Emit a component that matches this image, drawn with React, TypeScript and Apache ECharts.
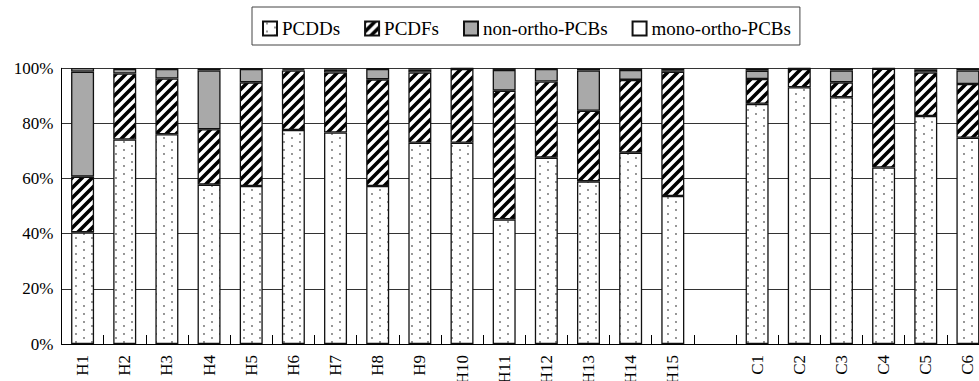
import React, { useEffect, useRef } from "react";
import * as echarts from "echarts";

const categories = ["H1","H2","H3","H4","H5","H6","H7","H8","H9","H10","H11","H12","H13","H14","H15","","C1","C2","C3","C4","C5","C6"];
const pcdds = [40.5,74.2,76.1,57.8,57.3,77.6,76.7,57.3,73.0,73.0,45.2,67.6,59.0,69.4,53.7,null,87.1,93.1,89.5,64.0,82.7,74.8];
const pcdfs = [20.2,23.9,20.2,20.1,37.6,21.6,21.8,38.7,25.5,26.8,46.7,27.6,25.6,26.4,45.1,null,9.0,6.7,5.4,35.9,15.8,19.5];
const nonOrtho = [38.1,1.7,3.5,21.3,4.9,0.4,1.0,3.8,1.0,0.1,7.5,4.6,14.6,3.6,0.5,null,3.0,0.1,4.3,0.0,1.0,4.9];
const monoOrtho = [1.2,0.2,0.2,0.8,0.2,0.4,0.5,0.2,0.5,0.1,0.6,0.2,0.8,0.6,0.7,null,0.9,0.1,0.8,0.1,0.5,0.8];
const yTicks = [0, 20, 40, 60, 80, 100];

const FONT = "Liberation Serif";

const dotsSvg =
  "<svg xmlns='http://www.w3.org/2000/svg' width='16' height='8'>" +
  "<rect width='16' height='8' fill='white'/>" +
  "<circle cx='4' cy='2' r='0.9' fill='#666'/>" +
  "<circle cx='12' cy='6' r='0.9' fill='#666'/></svg>";
const hatchSvg =
  "<svg xmlns='http://www.w3.org/2000/svg' width='10' height='10'>" +
  "<rect width='10' height='10' fill='white'/>" +
  "<path d='M-2,2 L2,-2 M0,10 L10,0 M8,12 L12,8' stroke='black' stroke-width='3.6'/></svg>";

const toUrl = (s: string) => "data:image/svg+xml;charset=utf-8," + encodeURIComponent(s);

export default function App() {
  const ref = useRef<HTMLDivElement>(null);
  useEffect(() => {
    document.body.style.margin = "0";
    const chart = echarts.init(ref.current!, null, { renderer: "svg" });
    const dotPattern: any = { image: toUrl(dotsSvg), repeat: "repeat", imageWidth: 16, imageHeight: 8 };
    const hatchPattern: any = { image: toUrl(hatchSvg), repeat: "repeat", imageWidth: 10, imageHeight: 10 };
    const border = { borderColor: "#111", borderWidth: 1.3 };
    const mk = (name: string, data: (number | null)[], color: any) => ({
      name,
      type: "bar",
      stack: "all",
      data: data.map((v) => (v == null ? "-" : v)),
      barWidth: 23,
      itemStyle: { color, ...border },
      emphasis: { disabled: true },
    });
    chart.setOption({
      animation: false,
      backgroundColor: "#fff",
      textStyle: { fontFamily: FONT, color: "#000" },
      legend: {
        left: 252,
        top: 7,
        padding: [12, 9, 7, 10],
        borderColor: "#444",
        borderWidth: 1,
        itemWidth: 14,
        itemHeight: 14,
        itemGap: 24,
        icon: "rect",
        textStyle: { fontFamily: FONT, fontSize: 19, color: "#000" },
        data: ["PCDDs", "PCDFs", "non-ortho-PCBs", "mono-ortho-PCBs"],
      },
      grid: {
        left: 61.5,
        top: 68.3,
        width: 927.5,
        height: 275.7,
        containLabel: false,
        outerBoundsMode: "none",
      },
      xAxis: {
        type: "category",
        data: categories,
        axisLine: { lineStyle: { color: "#000", width: 1 } },
        axisTick: { show: true, inside: true, length: 9, lineStyle: { color: "#000" }, interval: 0 },
        axisLabel: {
          rotate: 90,
          interval: 0,
          margin: 11,
          fontFamily: FONT,
          fontSize: 17,
          color: "#000",
        },
      },
      yAxis: {
        type: "value",
        min: yTicks[0],
        max: yTicks[yTicks.length - 1],
        interval: 20,
        axisLine: { show: true, lineStyle: { color: "#000", width: 1 } },
        axisTick: { show: false },
        splitLine: { lineStyle: { color: "#333", width: 1 } },
        axisLabel: {
          formatter: "{value}%",
          margin: 8,
          fontFamily: FONT,
          fontSize: 17,
          color: "#000",
        },
      },
      series: [
        mk("PCDDs", pcdds, dotPattern),
        mk("PCDFs", pcdfs, hatchPattern),
        mk("non-ortho-PCBs", nonOrtho, "#a9a9a9"),
        mk("mono-ortho-PCBs", monoOrtho, "#ffffff"),
      ],
    });
    return () => chart.dispose();
  }, []);
  return (
    <div
      ref={ref}
      style={{ position: "absolute", left: 0, top: 0, width: 979, height: 381, background: "#fff" }}
    />
  );
}
